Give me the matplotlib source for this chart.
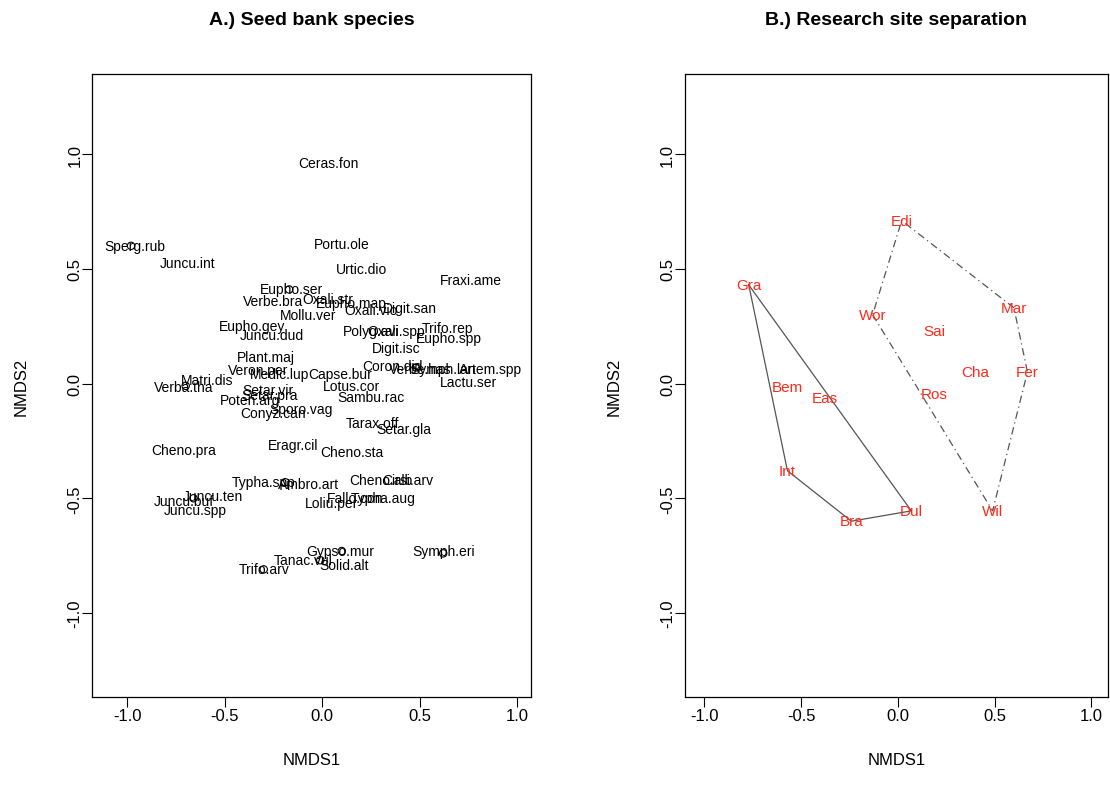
import numpy as np
import matplotlib
matplotlib.use('Agg')
import matplotlib.pyplot as plt

plt.rcParams['font.family'] = ['Liberation Sans', 'DejaVu Sans']

# species scores (NMDS1, NMDS2)
species = ['Ceras.fon', 'Sperg.rub', 'Juncu.int', 'Portu.ole', 'Urtic.dio', 'Fraxi.ame',
           'Eupho.ser', 'Verbe.bra', 'Oxali.str', 'Eupho.map', 'Digit.san', 'Mollu.ver',
           'Oxali.vio', 'Eupho.gey', 'Juncu.dud', 'Polyg.avi', 'Oxali.spp', 'Trifo.rep',
           'Eupho.spp', 'Digit.isc', 'Plant.maj', 'Veron.per', 'Medic.lup', 'Capse.bur',
           'Coron.did', 'Verbe.has', 'Symph.lan', 'Artem.spp', 'Lactu.ser', 'Matri.dis',
           'Verba.tha', 'Setar.vir', 'Setar.pra', 'Poten.arg', 'Lotus.cor', 'Sambu.rac',
           'Sporo.vag', 'Conyz.can', 'Tarax.off', 'Setar.gla', 'Cheno.pra', 'Eragr.cil',
           'Cheno.sta', 'Typha.spp', 'Ambro.art', 'Cheno.alb', 'Cirsi.arv', 'Juncu.ten',
           'Juncu.buf', 'Juncu.spp', 'Loliu.per', 'Fallo.con', 'Typha.aug', 'Gypso.mur',
           'Symph.eri', 'Tanac.vul', 'Solid.alt', 'Trifo.arv']
sp_x = [0.03, -0.96, -0.69, 0.10, 0.20, 0.76,
        -0.16, -0.25, 0.03, 0.15, 0.45, -0.07,
        0.25, -0.36, -0.26, 0.25, 0.38, 0.64,
        0.65, 0.38, -0.29, -0.33, -0.22, 0.09,
        0.36, 0.50, 0.62, 0.86, 0.75, -0.59,
        -0.71, -0.28, -0.27, -0.37, 0.15, 0.25,
        -0.11, -0.25, 0.26, 0.42, -0.71, -0.15,
        0.15, -0.30, -0.07, 0.30, 0.44, -0.56,
        -0.71, -0.65, 0.05, 0.17, 0.31, 0.09,
        0.62, -0.10, 0.11, -0.30]
sp_y = [0.96, 0.60, 0.525, 0.61, 0.50, 0.45,
        0.41, 0.36, 0.37, 0.35, 0.33, 0.30,
        0.32, 0.25, 0.21, 0.23, 0.23, 0.24,
        0.20, 0.155, 0.115, 0.06, 0.04, 0.04,
        0.075, 0.063, 0.063, 0.063, 0.007, 0.015,
        -0.015, -0.03, -0.05, -0.07, -0.01, -0.06,
        -0.11, -0.13, -0.17, -0.20, -0.29, -0.27,
        -0.30, -0.43, -0.44, -0.42, -0.42, -0.49,
        -0.51, -0.55, -0.52, -0.50, -0.50, -0.73,
        -0.73, -0.77, -0.79, -0.81]

# species shown only as points
pt_x = [-0.98, -0.17, -0.70, -0.66, -0.19, -0.30, 0.10, -0.01, 0.62, 0.48]
pt_y = [0.60, 0.41, -0.01, -0.50, -0.43, -0.81, -0.73, -0.77, -0.74, 0.07]

# site scores and site group
sites = ['Edi', 'Gra', 'Wor', 'Sai', 'Mar', 'Cha', 'Fer', 'Bem', 'Eas', 'Ros',
         'Int', 'Dul', 'Bra', 'Wil']
site_x = [0.02, -0.77, -0.13, 0.19, 0.60, 0.40, 0.67, -0.57, -0.375, 0.19,
          -0.57, 0.07, -0.24, 0.49]
site_y = [0.71, 0.43, 0.30, 0.23, 0.33, 0.05, 0.05, -0.015, -0.063, -0.046,
          -0.38, -0.555, -0.60, -0.555]
site_grp = [2, 1, 2, 2, 2, 2, 2, 1, 1, 2, 1, 1, 1, 2]

ticks = [-1.0, -0.5, 0.0, 0.5, 1.0]


def hull(px, py):
    pts = sorted(zip(px, py))

    def cross(o, a, b):
        return (a[0]-o[0])*(b[1]-o[1]) - (a[1]-o[1])*(b[0]-o[0])
    lower, upper = [], []
    for p in pts:
        while len(lower) >= 2 and cross(lower[-2], lower[-1], p) <= 0:
            lower.pop()
        lower.append(p)
    for p in reversed(pts):
        while len(upper) >= 2 and cross(upper[-2], upper[-1], p) <= 0:
            upper.pop()
        upper.append(p)
    h = lower[:-1] + upper[:-1]
    h.append(h[0])
    return np.array(h)


def r_axes(ax, xlim):
    ax.set_xlim(xlim)
    ax.set_ylim([-1.366, 1.349])
    ax.set_xticks(ticks)
    ax.set_yticks(ticks)
    ax.set_xticklabels(['%.1f' % t for t in ticks], fontsize=12)
    ax.set_yticklabels(['%.1f' % t for t in ticks], fontsize=12, rotation=90, va='center')
    ax.tick_params(direction='out', length=7, width=0.8)
    ax.tick_params(axis='x', pad=1)
    ax.tick_params(axis='y', pad=0)
    for s in ax.spines.values():
        s.set_linewidth(0.9)
    ax.set_xlabel('NMDS1', fontsize=12, labelpad=21)
    ax.set_ylabel('NMDS2', fontsize=12, labelpad=28)


fig = plt.figure(figsize=(11.1, 8.03), dpi=100)

ax1 = fig.add_axes([0.0829, 0.1308, 0.3955, 0.7758])
ax1.scatter(pt_x, pt_y, s=28, facecolors='none', edgecolors='black', linewidths=0.8)
for name, x, y in zip(species, sp_x, sp_y):
    ax1.text(x, y, name, fontsize=10, ha='center', va='center', color='black')
r_axes(ax1, [-1.18, 1.07])
ax1.set_title('A.) Seed bank species', fontsize=14, fontweight='bold', pad=36)

ax2 = fig.add_axes([0.617, 0.1308, 0.381, 0.7758])
gx = np.array(site_x)
gy = np.array(site_y)
g = np.array(site_grp)
h1 = hull(gx[g == 1], gy[g == 1])
h2 = hull(gx[g == 2], gy[g == 2])
ax2.plot(h1[:, 0], h1[:, 1], color='#555555', lw=0.9, ls='-')
ax2.plot(h2[:, 0], h2[:, 1], color='#555555', lw=0.9, ls=(0, (6, 3, 1, 3)))
for name, x, y in zip(sites, site_x, site_y):
    ax2.text(x, y, name, fontsize=11, ha='center', va='center', color='#ff2a1a')
r_axes(ax2, [-1.10, 1.085])
ax2.set_title('B.) Research site separation', fontsize=14, fontweight='bold', pad=36)

fig.savefig('out.png', dpi=100)
